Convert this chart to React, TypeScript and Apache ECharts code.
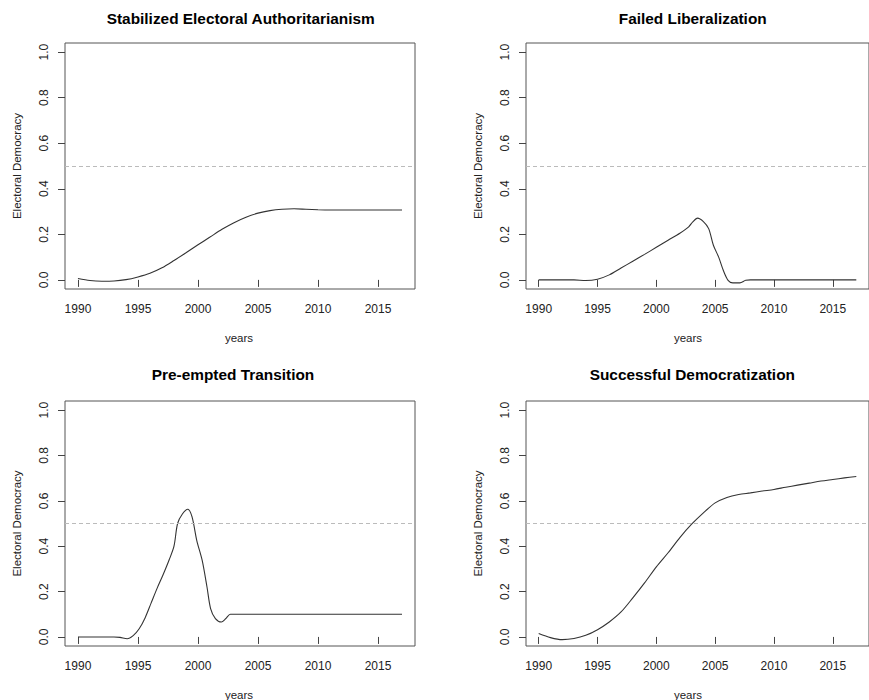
import { useEffect, useRef } from 'react';
import * as echarts from 'echarts';

// years and smoothed electoral-democracy scores
const stabYears = [1990, 1991, 1992, 1993, 1994, 1995, 1996, 1997, 1998, 1999, 2000, 2001, 2002, 2003, 2004, 2005, 2006, 2007, 2008, 2009, 2010, 2011, 2012, 2013, 2014, 2015, 2016, 2017];
const stabValues = [0.006, -0.003, -0.006, -0.005, 0.001, 0.013, 0.029, 0.053, 0.085, 0.119, 0.154, 0.188, 0.222, 0.251, 0.275, 0.293, 0.304, 0.310, 0.312, 0.310, 0.308, 0.307, 0.307, 0.307, 0.307, 0.307, 0.307, 0.307];

const failedYears = [1990, 1991, 1992, 1993, 1994, 1995, 1996, 1997, 1998, 1999, 2000, 2001, 2002, 2002.75, 2003.1, 2003.5, 2004, 2004.45, 2004.85, 2005.3, 2005.7, 2006.1, 2006.5, 2007.1, 2007.6, 2008, 2009, 2010, 2011, 2012, 2013, 2014, 2015, 2016, 2017];
const failedValues = [0, 0, 0, 0, -0.003, 0.003, 0.022, 0.052, 0.082, 0.112, 0.143, 0.174, 0.205, 0.233, 0.255, 0.271, 0.256, 0.225, 0.152, 0.1, 0.041, -0.002, -0.013, -0.013, -0.002, 0, 0, 0, 0, 0, 0, 0, 0, 0, 0];

const preYears = [1990, 1991, 1992, 1993, 1993.5, 1994.1, 1994.6, 1995.1, 1995.6, 1996.1, 1996.6, 1997.1, 1997.6, 1998.0, 1998.3, 1998.7, 1999.15, 1999.5, 1999.9, 2000.35, 2000.75, 2001.05, 2001.45, 2001.95, 2002.3, 2002.7, 2003, 2004, 2005, 2006, 2007, 2008, 2009, 2010, 2011, 2012, 2013, 2014, 2015, 2016, 2017];
const preValues = [0, 0, 0, 0, -0.002, -0.008, 0.006, 0.036, 0.085, 0.15, 0.215, 0.275, 0.34, 0.4, 0.5, 0.542, 0.563, 0.53, 0.425, 0.337, 0.22, 0.125, 0.081, 0.066, 0.08, 0.1, 0.1, 0.1, 0.1, 0.1, 0.1, 0.1, 0.1, 0.1, 0.1, 0.1, 0.1, 0.1, 0.1, 0.1, 0.1];

const succYears = [1990, 1991, 1992, 1993, 1994, 1995, 1996, 1997, 1998, 1999, 2000, 2001, 2002, 2003, 2004, 2005, 2006, 2007, 2008, 2009, 2010, 2011, 2012, 2013, 2014, 2015, 2016, 2017];
const succValues = [0.015, -0.003, -0.012, -0.007, 0.007, 0.032, 0.066, 0.11, 0.172, 0.238, 0.309, 0.371, 0.438, 0.497, 0.547, 0.591, 0.615, 0.628, 0.635, 0.643, 0.65, 0.66, 0.669, 0.678, 0.687, 0.694, 0.701, 0.707];

const titles = ['Stabilized Electoral Authoritarianism', 'Failed Liberalization', 'Pre-empted Transition', 'Successful Democratization'];
const xTicks = [1990, 1995, 2000, 2005, 2010, 2015];
const yTicks = [0, 0.2, 0.4, 0.6, 0.8, 1.0];
const threshold = 0.5;

const FONT = '"Liberation Sans", Arial, Helvetica, sans-serif';

export default function App() {
  const chartRef = useRef<HTMLDivElement>(null);

  useEffect(() => {
    if (!chartRef.current) return;
    const chart = echarts.init(chartRef.current, undefined, { renderer: 'svg' });

    const panels = [
      { years: stabYears, values: stabValues },
      { years: failedYears, values: failedValues },
      { years: preYears, values: preValues },
      { years: succYears, values: succValues }
    ];
    const grids = [
      { left: 65, top: 43, width: 350, height: 246 },
      { left: 526, top: 43, width: 350, height: 246 },
      { left: 65, top: 401, width: 350, height: 245 },
      { left: 526, top: 401, width: 350, height: 245 }
    ];
    const titlePos = [[240.7, 18], [692.7, 18], [233, 374], [692.3, 374]];

    const graphic: any[] = [];
    grids.forEach((g, i) => {
      graphic.push({
        type: 'text',
        x: titlePos[i][0],
        y: titlePos[i][1],
        style: {
          text: titles[i], fill: '#000', fontFamily: FONT, fontSize: 15.4, fontWeight: 'bold',
          align: 'center', verticalAlign: 'middle', textAlign: 'center', textVerticalAlign: 'middle'
        }
      });
      graphic.push({
        type: 'text',
        x: g.left + g.width / 2 - (i % 2 === 1 ? 13 : 1),
        y: g.top + g.height + 49,
        style: {
          text: 'years', fill: '#222', fontFamily: FONT, fontSize: 11.5,
          align: 'center', verticalAlign: 'middle', textAlign: 'center', textVerticalAlign: 'middle'
        }
      });
      graphic.push({
        type: 'text',
        x: g.left - 48,
        y: g.top + g.height / 2,
        rotation: Math.PI / 2,
        style: {
          text: 'Electoral Democracy', fill: '#222', fontFamily: FONT, fontSize: 11.5,
          align: 'center', verticalAlign: 'middle', textAlign: 'center', textVerticalAlign: 'middle'
        }
      });
    });

    const option = {
      animation: false,
      backgroundColor: '#fff',
      grid: grids.map((g) => ({ ...g, show: true, borderColor: '#555', borderWidth: 1, containLabel: false })),
      xAxis: grids.map((_, i) => ({
        type: 'value',
        gridIndex: i,
        min: 1988.92,
        max: 2018.08,
        axisLine: { show: false },
        splitLine: { show: false },
        axisTick: { show: true, length: 7, customValues: xTicks, lineStyle: { color: '#444' } },
        axisLabel: {
          customValues: xTicks, margin: 14, color: '#222', fontFamily: FONT, fontSize: 12,
          formatter: (v: number) => String(v)
        }
      })),
      yAxis: grids.map((_, i) => ({
        type: 'value',
        gridIndex: i,
        min: -0.04,
        max: 1.04,
        axisLine: { show: false },
        splitLine: { show: false },
        axisTick: { show: true, length: 7, customValues: yTicks, lineStyle: { color: '#444' } },
        axisLabel: {
          customValues: yTicks, rotate: 90, margin: 15, color: '#222', fontFamily: FONT, fontSize: 12,
          formatter: (v: number) => v.toFixed(1)
        }
      })),
      series: panels.map((p, i) => ({
        type: 'line',
        xAxisIndex: i,
        yAxisIndex: i,
        data: p.years.map((y, k) => [y, p.values[k]]),
        smooth: 0.3,
        showSymbol: false,
        lineStyle: { color: '#333', width: 1.1 },
        markLine: {
          silent: true,
          symbol: 'none',
          label: { show: false },
          lineStyle: { color: '#bbb', type: [4, 3], width: 1 },
          data: [{ yAxis: threshold }]
        }
      })),
      graphic
    };

    chart.setOption(option);

    return () => {
      chart.dispose();
    };
  }, []);

  return <div ref={chartRef} style={{ position: 'fixed', left: 0, top: 0, width: 869, height: 700 }} />;
}
